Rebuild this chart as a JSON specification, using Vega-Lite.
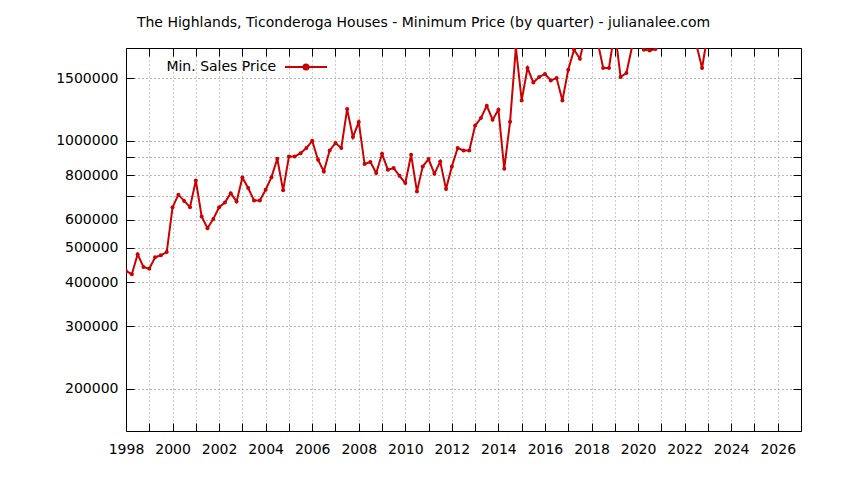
{
  "$schema": "https://vega.github.io/schema/vega-lite/v6.json",
  "width": 675,
  "height": 383,
  "autosize": "none",
  "padding": {"left": 126, "top": 48, "right": 43, "bottom": 49},
  "background": "white",
  "title": {
    "text": "The Highlands, Ticonderoga Houses - Minimum Price (by quarter) - julianalee.com",
    "font": "DejaVu Sans",
    "fontSize": 14,
    "fontWeight": "normal",
    "color": "black",
    "anchor": "middle",
    "dx": -40,
    "offset": 4,
    "baseline": "alphabetic"
  },
  "data": {
    "values": [
      {"t": 1998.00, "price": 430000},
      {"t": 1998.25, "price": 421000},
      {"t": 1998.50, "price": 479000},
      {"t": 1998.75, "price": 441000},
      {"t": 1999.00, "price": 436000},
      {"t": 1999.25, "price": 470000},
      {"t": 1999.50, "price": 476000},
      {"t": 1999.75, "price": 486000},
      {"t": 2000.00, "price": 650000},
      {"t": 2000.25, "price": 705000},
      {"t": 2000.50, "price": 677000},
      {"t": 2000.75, "price": 650000},
      {"t": 2001.00, "price": 773000},
      {"t": 2001.25, "price": 612000},
      {"t": 2001.50, "price": 567000},
      {"t": 2001.75, "price": 602000},
      {"t": 2002.00, "price": 650000},
      {"t": 2002.25, "price": 670000},
      {"t": 2002.50, "price": 712000},
      {"t": 2002.75, "price": 674000},
      {"t": 2003.00, "price": 788000},
      {"t": 2003.25, "price": 736000},
      {"t": 2003.50, "price": 679000},
      {"t": 2003.75, "price": 679000},
      {"t": 2004.00, "price": 728000},
      {"t": 2004.25, "price": 790000},
      {"t": 2004.50, "price": 890000},
      {"t": 2004.75, "price": 725000},
      {"t": 2005.00, "price": 903000},
      {"t": 2005.25, "price": 903000},
      {"t": 2005.50, "price": 923000},
      {"t": 2005.75, "price": 954000},
      {"t": 2006.00, "price": 1000000},
      {"t": 2006.25, "price": 884000},
      {"t": 2006.50, "price": 820000},
      {"t": 2006.75, "price": 939000},
      {"t": 2007.00, "price": 985000},
      {"t": 2007.25, "price": 954000},
      {"t": 2007.50, "price": 1228000},
      {"t": 2007.75, "price": 1024000},
      {"t": 2008.00, "price": 1129000},
      {"t": 2008.25, "price": 860000},
      {"t": 2008.50, "price": 871000},
      {"t": 2008.75, "price": 811000},
      {"t": 2009.00, "price": 919000},
      {"t": 2009.25, "price": 829000},
      {"t": 2009.50, "price": 838000},
      {"t": 2009.75, "price": 797000},
      {"t": 2010.00, "price": 760000},
      {"t": 2010.25, "price": 913000},
      {"t": 2010.50, "price": 720000},
      {"t": 2010.75, "price": 847000},
      {"t": 2011.00, "price": 888000},
      {"t": 2011.25, "price": 807000},
      {"t": 2011.50, "price": 874000},
      {"t": 2011.75, "price": 731000},
      {"t": 2012.00, "price": 847000},
      {"t": 2012.25, "price": 954000},
      {"t": 2012.50, "price": 939000},
      {"t": 2012.75, "price": 939000},
      {"t": 2013.00, "price": 1104000},
      {"t": 2013.25, "price": 1159000},
      {"t": 2013.50, "price": 1255000},
      {"t": 2013.75, "price": 1146000},
      {"t": 2014.00, "price": 1223000},
      {"t": 2014.25, "price": 834000},
      {"t": 2014.50, "price": 1131000},
      {"t": 2014.75, "price": 1830000},
      {"t": 2015.00, "price": 1299000},
      {"t": 2015.25, "price": 1603000},
      {"t": 2015.50, "price": 1460000},
      {"t": 2015.75, "price": 1512000},
      {"t": 2016.00, "price": 1542000},
      {"t": 2016.25, "price": 1479000},
      {"t": 2016.50, "price": 1502000},
      {"t": 2016.75, "price": 1299000},
      {"t": 2017.00, "price": 1585000},
      {"t": 2017.25, "price": 1805000},
      {"t": 2017.50, "price": 1703000},
      {"t": 2017.75, "price": 2000000},
      {"t": 2018.00, "price": 2100000},
      {"t": 2018.25, "price": 1920000},
      {"t": 2018.50, "price": 1603000},
      {"t": 2018.75, "price": 1603000},
      {"t": 2019.00, "price": 2050000},
      {"t": 2019.25, "price": 1512000},
      {"t": 2019.50, "price": 1552000},
      {"t": 2019.75, "price": 1850000},
      {"t": 2020.00, "price": 2000000},
      {"t": 2020.25, "price": 1805000},
      {"t": 2020.50, "price": 1795000},
      {"t": 2020.75, "price": 1812000},
      {"t": 2021.00, "price": 2500000},
      {"t": 2021.25, "price": 2300000},
      {"t": 2021.50, "price": 2400000},
      {"t": 2021.75, "price": 2300000},
      {"t": 2022.00, "price": 2400000},
      {"t": 2022.25, "price": 2300000},
      {"t": 2022.50, "price": 1870000},
      {"t": 2022.75, "price": 1603000},
      {"t": 2023.00, "price": 2020000}
    ]
  },
  "layer": [
    {
      "mark": {"type": "line", "strokeWidth": 2, "clip": true},
      "encoding": {
        "x": {
          "field": "t", "type": "quantitative",
          "scale": {"domain": [1998, 2027], "nice": false, "zero": false},
          "axis": {
            "orient": "bottom",
            "values": [1998, 1999, 2000, 2001, 2002, 2003, 2004, 2005, 2006, 2007, 2008, 2009, 2010, 2011, 2012, 2013, 2014, 2015, 2016, 2017, 2018, 2019, 2020, 2021, 2022, 2023, 2024, 2025, 2026, 2027],
            "labelExpr": "datum.value % 2 == 0 ? '' + datum.value : ''",
            "tickSize": -8,
            "labelPadding": 19,
            "labelFlush": false,
            "labelOverlap": false,
            "grid": true,
            "gridColor": "#9a9a9a"
          }
        },
        "y": {
          "field": "price", "type": "quantitative",
          "scale": {"type": "log", "domain": [152300, 1825000], "nice": false},
          "axis": {
            "orient": "left",
            "values": [200000, 300000, 400000, 500000, 600000, 700000, 800000, 900000, 1000000, 1500000],
            "labelExpr": "datum.value == 700000 || datum.value == 900000 ? '' : format(datum.value, 'd')",
            "tickSize": -8,
            "labelPadding": 16,
            "labelOverlap": false,
            "grid": true,
            "gridColor": "#707070"
          }
        },
        "color": {
          "datum": "Min. Sales Price",
          "scale": {"range": ["#cc0000"]},
          "legend": {
            "orient": "none",
            "legendX": 158,
            "legendY": -3,
            "title": null,
            "padding": 0,
            "symbolType": "M-1,0H1M-0.12,0A0.12,0.12 0 1,1 0.12,0A0.12,0.12 0 1,1 -0.12,0",
            "symbolSize": 1764,
            "symbolStrokeWidth": 2,
            "symbolStrokeColor": "#cc0000",
            "symbolFillColor": "#cc0000",
            "labelAlign": "right",
            "labelOffset": -52,
            "labelFont": "DejaVu Sans",
            "labelFontSize": 14,
            "labelColor": "black"
          }
        }
      }
    },
    {
      "mark": {"type": "point", "filled": true, "size": 16, "color": "#cc0000", "opacity": 1, "clip": true},
      "encoding": {
        "x": {"field": "t", "type": "quantitative", "scale": {"domain": [1998, 2027], "nice": false, "zero": false}, "axis": null},
        "y": {"field": "price", "type": "quantitative", "scale": {"type": "log", "domain": [152300, 1825000], "nice": false}, "axis": null}
      }
    },
    {
      "mark": {"type": "line", "opacity": 0, "clip": true},
      "encoding": {
        "x": {
          "field": "t", "type": "quantitative",
          "scale": {"domain": [1998, 2027], "nice": false, "zero": false},
          "axis": {
            "orient": "top",
            "values": [1998, 1999, 2000, 2001, 2002, 2003, 2004, 2005, 2006, 2007, 2008, 2009, 2010, 2011, 2012, 2013, 2014, 2015, 2016, 2017, 2018, 2019, 2020, 2021, 2022, 2023, 2024, 2025, 2026, 2027],
            "labels": false,
            "tickSize": -8,
            "grid": false
          }
        },
        "y": {
          "field": "price", "type": "quantitative",
          "scale": {"type": "log", "domain": [152300, 1825000], "nice": false},
          "axis": {
            "orient": "right",
            "values": [200000, 300000, 400000, 500000, 600000, 700000, 800000, 900000, 1000000, 1500000],
            "labels": false,
            "tickSize": -8,
            "grid": false
          }
        }
      }
    }
  ],
  "resolve": {"axis": {"x": "independent", "y": "independent"}},
  "config": {
    "view": {"stroke": null},
    "axis": {
      "title": null,
      "labelFont": "DejaVu Sans",
      "labelFontSize": 14,
      "labelColor": "black",
      "domainColor": "black",
      "domainWidth": 1,
      "tickColor": "black",
      "tickWidth": 1,
      "gridDash": [1, 3],
      "gridWidth": 1,
      "gridOpacity": 1
    }
  }
}
